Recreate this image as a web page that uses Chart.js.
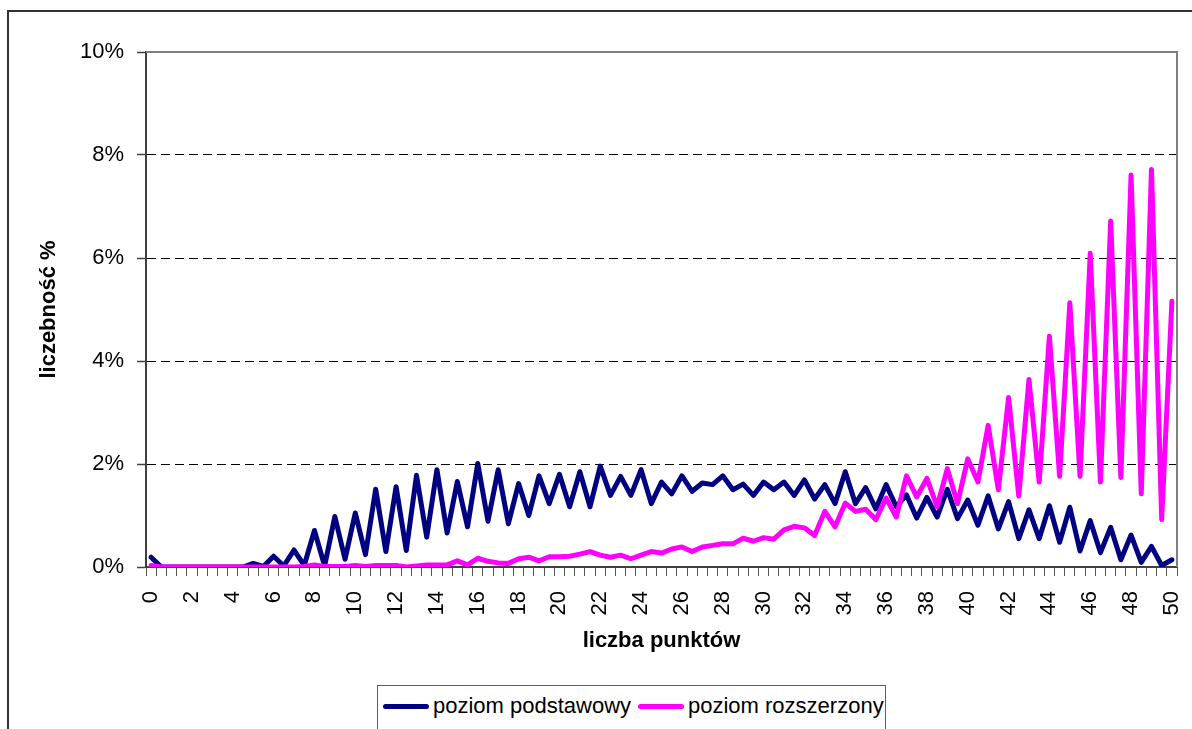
<!DOCTYPE html>
<html lang="pl">
<head>
<meta charset="utf-8">
<script src="https://cdn.jsdelivr.net/npm/chart.js@4.4.1/dist/chart.umd.min.js"></script>
<style>
  html, body { margin: 0; padding: 0; background: #fff; overflow: hidden; }
  #wrap { position: relative; width: 1192px; height: 729px; }
  #c { position: absolute; left: 0; top: 0; }
  #legend {
    position: absolute; left: 377px; top: 685px; width: 509px; height: 60px;
    border: 1.5px solid #606060; box-sizing: border-box; background: #fff;
    font-family: Arial, "Liberation Sans", sans-serif; font-size: 22px; color: #000;
  }
  #legend .item { position: absolute; top: 6px; height: 28px; display: flex; align-items: center; white-space: nowrap; }
  #legend .sw { display: inline-block; width: 46px; height: 5px; border-radius: 3px; margin-right: 4px; }
</style>
</head>
<body>
<div id="wrap">
  <canvas id="c" width="1192" height="729"></canvas>
  <div id="legend"></div>
</div>
<script>
// ---- data ----
const punkty = [0,0.5,1,1.5,2,2.5,3,3.5,4,4.5,5,5.5,6,6.5,7,7.5,8,8.5,9,9.5,10,10.5,11,11.5,12,12.5,13,13.5,14,14.5,15,15.5,16,16.5,17,17.5,18,18.5,19,19.5,20,20.5,21,21.5,22,22.5,23,23.5,24,24.5,25,25.5,26,26.5,27,27.5,28,28.5,29,29.5,30,30.5,31,31.5,32,32.5,33,33.5,34,34.5,35,35.5,36,36.5,37,37.5,38,38.5,39,39.5,40,40.5,41,41.5,42,42.5,43,43.5,44,44.5,45,45.5,46,46.5,47,47.5,48,48.5,49,49.5,50];

const poziomPodstawowy = [0.19,0,0,0,0,0,0,0,0,0,0.07,0.01,0.21,0.02,0.33,0.03,0.71,0.02,0.98,0.15,1.05,0.24,1.51,0.30,1.56,0.32,1.78,0.58,1.89,0.66,1.66,0.78,2.01,0.89,1.89,0.84,1.62,1.00,1.77,1.23,1.80,1.17,1.85,1.17,1.96,1.39,1.76,1.39,1.89,1.23,1.65,1.42,1.77,1.47,1.63,1.60,1.77,1.50,1.61,1.39,1.65,1.50,1.65,1.39,1.69,1.32,1.60,1.23,1.85,1.23,1.54,1.13,1.60,1.17,1.40,0.95,1.35,0.97,1.51,0.94,1.30,0.81,1.38,0.74,1.27,0.55,1.11,0.55,1.19,0.48,1.16,0.31,0.90,0.28,0.77,0.14,0.62,0.09,0.40,0.03,0.14];

const poziomRozszerzony = [0.03,0,0,0,0,0,0,0,0,0,0,0,0,0,0,0.01,0.04,0.01,0.01,0.01,0.03,0.01,0.03,0.03,0.03,0,0.02,0.04,0.04,0.04,0.12,0.04,0.17,0.11,0.08,0.07,0.16,0.19,0.12,0.20,0.20,0.21,0.25,0.30,0.23,0.19,0.23,0.16,0.23,0.30,0.27,0.35,0.39,0.30,0.39,0.42,0.45,0.45,0.56,0.50,0.57,0.54,0.72,0.79,0.76,0.61,1.08,0.78,1.24,1.08,1.12,0.92,1.34,0.97,1.77,1.36,1.72,1.17,1.91,1.23,2.10,1.65,2.75,1.50,3.29,1.38,3.64,1.65,4.48,1.76,5.13,1.76,6.09,1.65,6.72,1.74,7.61,1.42,7.72,0.92,5.16];

const nazwySerii = ['poziom podstawowy', 'poziom rozszerzony'];
const yTicks = [0, 2, 4, 6, 8, 10];
const tytulY = 'liczebność %';
const tytulX = 'liczba punktów';

const FONT = 'Arial, "Liberation Sans", sans-serif';

const framePlugin = {
  id: 'frame',
  beforeDraw(chart) {
    const ctx = chart.ctx;
    ctx.save();
    ctx.fillStyle = '#fff';
    ctx.fillRect(0, 0, chart.width, chart.height);
    ctx.strokeStyle = '#333';
    ctx.lineWidth = 2;
    ctx.beginPath();
    ctx.moveTo(8, chart.height + 2);
    ctx.lineTo(8, 11);
    ctx.lineTo(chart.width + 2, 11);
    ctx.stroke();
    ctx.restore();
  },
  beforeDatasetsDraw(chart) {
    const a = chart.chartArea, ctx = chart.ctx;
    ctx.save();
    ctx.strokeStyle = '#808080';
    ctx.lineWidth = 2;
    ctx.beginPath();
    ctx.moveTo(a.left, a.top);
    ctx.lineTo(a.right, a.top);
    ctx.lineTo(a.right, a.bottom);
    ctx.stroke();
    ctx.restore();
  }
};

const chart = new Chart(document.getElementById('c'), {
  type: 'line',
  data: {
    labels: punkty,
    datasets: [
      { label: nazwySerii[0], data: poziomPodstawowy, borderColor: '#000080', backgroundColor: '#000080', order: 1 },
      { label: nazwySerii[1], data: poziomRozszerzony, borderColor: '#FF00FF', backgroundColor: '#FF00FF', order: 0 }
    ]
  },
  options: {
    responsive: false,
    animation: false,
    devicePixelRatio: 1,
    layout: { padding: { top: 52, right: 15, bottom: 72, left: 0 } },
    elements: {
      line: { borderWidth: 5, tension: 0, borderJoinStyle: 'round', borderCapStyle: 'round', fill: false },
      point: { radius: 0, hoverRadius: 0 }
    },
    plugins: { legend: { display: false }, tooltip: { enabled: false } },
    scales: {
      x: {
        type: 'category',
        offset: true,
        afterFit(s) { s.height = 90; s.paddingLeft = 0; s.paddingRight = 0; },
        grid: { display: true, drawOnChartArea: false, drawTicks: true, offset: true, tickLength: 9, tickColor: '#555', tickWidth: 1 },
        border: { display: true, color: '#404040', width: 2 },
        ticks: {
          autoSkip: false, minRotation: 90, maxRotation: 90, padding: 15,
          color: '#000', font: { family: FONT, size: 22 },
          callback(v, i) { return i % 4 === 0 ? String(punkty[i]) : ''; }
        },
        title: { display: true, text: tytulX, color: '#000', font: { family: FONT, size: 22, weight: 'bold' }, padding: { top: 0, bottom: 3 } }
      },
      y: {
        min: 0, max: 10,
        afterFit(s) { s.width = 146; s.paddingTop = 0; s.paddingBottom = 0; },
        afterBuildTicks(s) { s.ticks = yTicks.map(v => ({ value: v })); },
        grid: {
          drawTicks: true, tickLength: 9, tickColor: '#404040', tickWidth: 1.5,
          color(ctx) { const v = ctx.tick && ctx.tick.value; return (v === 0 || v === 10) ? 'rgba(0,0,0,0)' : '#000'; },
          lineWidth: 1
        },
        border: { display: true, color: '#404040', width: 2, dash: [9, 5] },
        ticks: {
          padding: 13, color: '#000', font: { family: FONT, size: 22 },
          callback(v) { return v + '%'; }
        },
        title: { display: true, text: tytulY, color: '#000', font: { family: FONT, size: 22, weight: 'bold' }, padding: { top: 36, bottom: 0 } }
      }
    }
  },
  plugins: [framePlugin]
});

// HTML legend built from the chart datasets
(function buildLegend() {
  const lg = document.getElementById('legend');
  const lefts = [5, 260];
  chart.data.datasets.forEach((ds, i) => {
    const it = document.createElement('div');
    it.className = 'item';
    it.style.left = lefts[i] + 'px';
    const sw = document.createElement('span');
    sw.className = 'sw';
    sw.style.background = ds.borderColor;
    const tx = document.createElement('span');
    tx.textContent = ds.label;
    it.appendChild(sw); it.appendChild(tx);
    lg.appendChild(it);
  });
})();
</script>
</body>
</html>
